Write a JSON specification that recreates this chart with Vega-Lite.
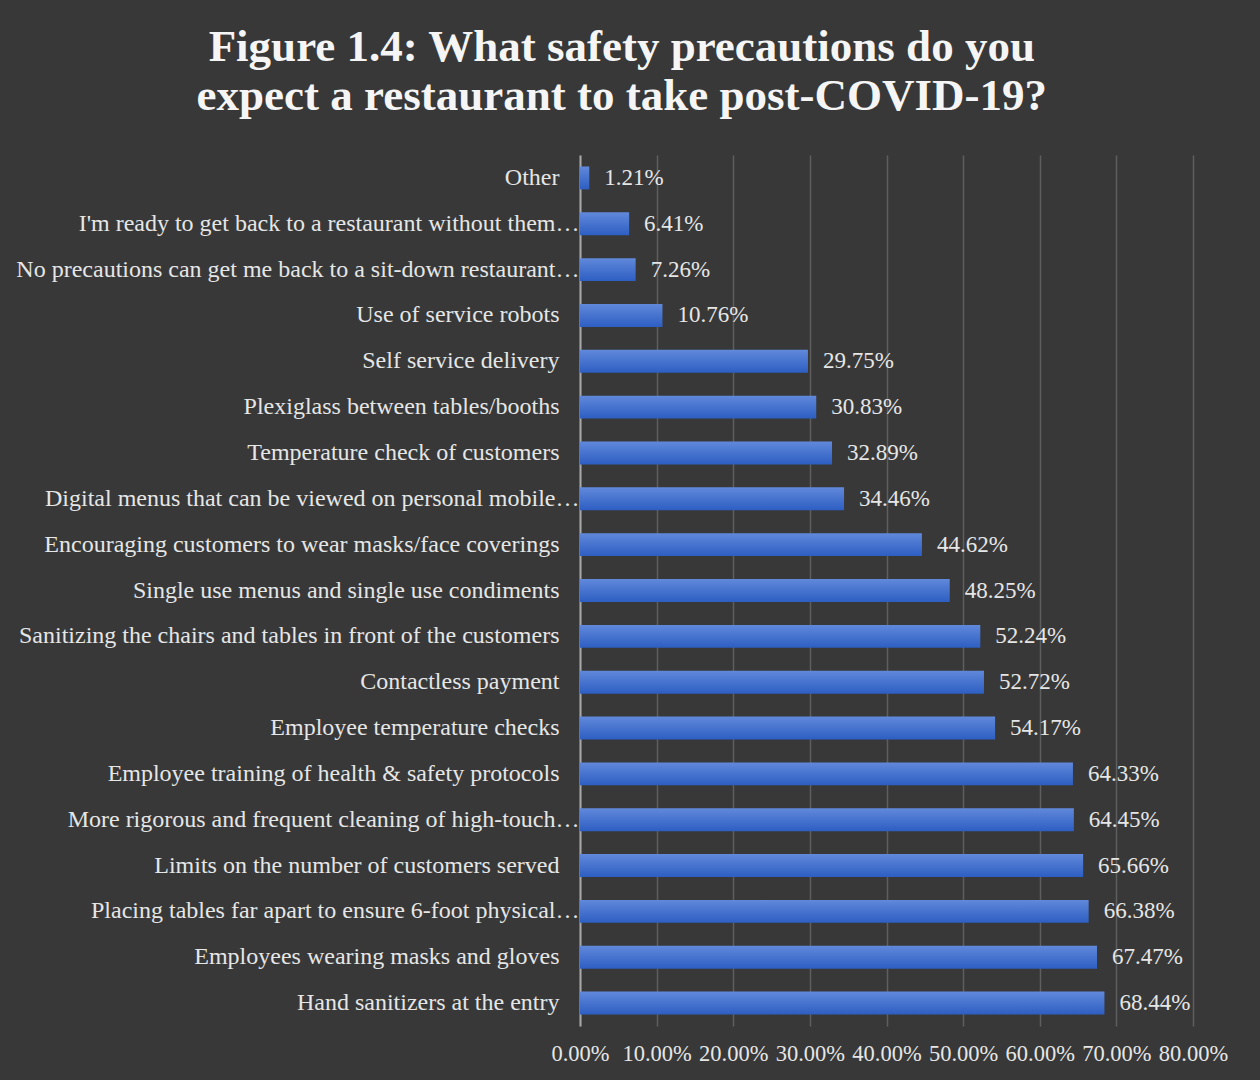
{
  "$schema": "https://vega.github.io/schema/vega-lite/v6.json",
  "autosize": {"type": "none"},
  "width": 613,
  "height": 871,
  "padding": {"left": 580, "top": 155, "right": 67, "bottom": 54},
  "background": "#383838",
  "title": {
    "text": ["Figure 1.4: What safety precautions do you", "expect a restaurant to take post-COVID-19?"],
    "font": "Liberation Serif",
    "fontSize": 45,
    "fontWeight": "bold",
    "color": "#f5f5f5",
    "lineHeight": 49,
    "anchor": "middle",
    "frame": "bounds",
    "offset": 36
  },
  "data": {
    "values": [
      {"item": "Other", "pct": 0.0121},
      {"item": "I'm ready to get back to a restaurant without them…", "pct": 0.0641},
      {"item": "No precautions can get me back to a sit-down restaurant…", "pct": 0.0726},
      {"item": "Use of service robots", "pct": 0.1076},
      {"item": "Self service delivery", "pct": 0.2975},
      {"item": "Plexiglass between tables/booths", "pct": 0.3083},
      {"item": "Temperature check of customers", "pct": 0.3289},
      {"item": "Digital menus that can be viewed on personal mobile…", "pct": 0.3446},
      {"item": "Encouraging customers to wear masks/face coverings", "pct": 0.4462},
      {"item": "Single use menus and single use condiments", "pct": 0.4825},
      {"item": "Sanitizing the chairs and tables in front of the customers", "pct": 0.5224},
      {"item": "Contactless payment", "pct": 0.5272},
      {"item": "Employee temperature checks", "pct": 0.5417},
      {"item": "Employee training of health & safety protocols", "pct": 0.6433},
      {"item": "More rigorous and frequent cleaning of high-touch…", "pct": 0.6445},
      {"item": "Limits on the number of customers served", "pct": 0.6566},
      {"item": "Placing tables far apart to ensure 6-foot physical…", "pct": 0.6638},
      {"item": "Employees wearing masks and gloves", "pct": 0.6747},
      {"item": "Hand sanitizers at the entry", "pct": 0.6844}
    ]
  },
  "encoding": {
    "y": {
      "field": "item",
      "type": "nominal",
      "sort": "x",
      "scale": {"paddingInner": 0.5, "paddingOuter": 0.25},
      "axis": {
        "title": null,
        "ticks": false,
        "labelFont": "Liberation Serif",
        "labelFontSize": 24,
        "labelColor": "#e6e6e6",
        "labelLimit": 700,
        "labelPadding": {"condition": {"test": "indexof(datum.value, '…') >= 0", "value": 1}, "value": 21},
        "domain": true,
        "domainColor": "#a8a8a8",
        "domainWidth": 2,
        "grid": false
      }
    },
    "x": {
      "field": "pct",
      "type": "quantitative",
      "scale": {"domain": [0, 0.8], "nice": false},
      "axis": {
        "title": null,
        "format": ".2%",
        "values": [0, 0.1, 0.2, 0.3, 0.4, 0.5, 0.6, 0.7, 0.8],
        "ticks": false,
        "domain": false,
        "grid": true,
        "gridColor": "#5e5e5e",
        "gridWidth": 1.5,
        "labelFont": "Liberation Serif",
        "labelFontSize": 22.5,
        "labelColor": "#e6e6e6",
        "labelPadding": 16,
        "labelFlush": false
      }
    }
  },
  "layer": [
    {
      "mark": {
        "type": "bar",
        "fill": {
          "x1": 0, "y1": 0, "x2": 0, "y2": 1,
          "gradient": "linear",
          "stops": [
            {"offset": 0, "color": "#6189db"},
            {"offset": 1, "color": "#2d5ec2"}
          ]
        }
      }
    },
    {
      "mark": {
        "type": "text",
        "align": "left",
        "baseline": "middle",
        "dx": 15,
        "font": "Liberation Serif",
        "fontSize": 23,
        "color": "#e6e6e6"
      },
      "encoding": {
        "text": {"field": "pct", "type": "quantitative", "format": ".2%"}
      }
    }
  ],
  "config": {
    "view": {"stroke": null}
  }
}
